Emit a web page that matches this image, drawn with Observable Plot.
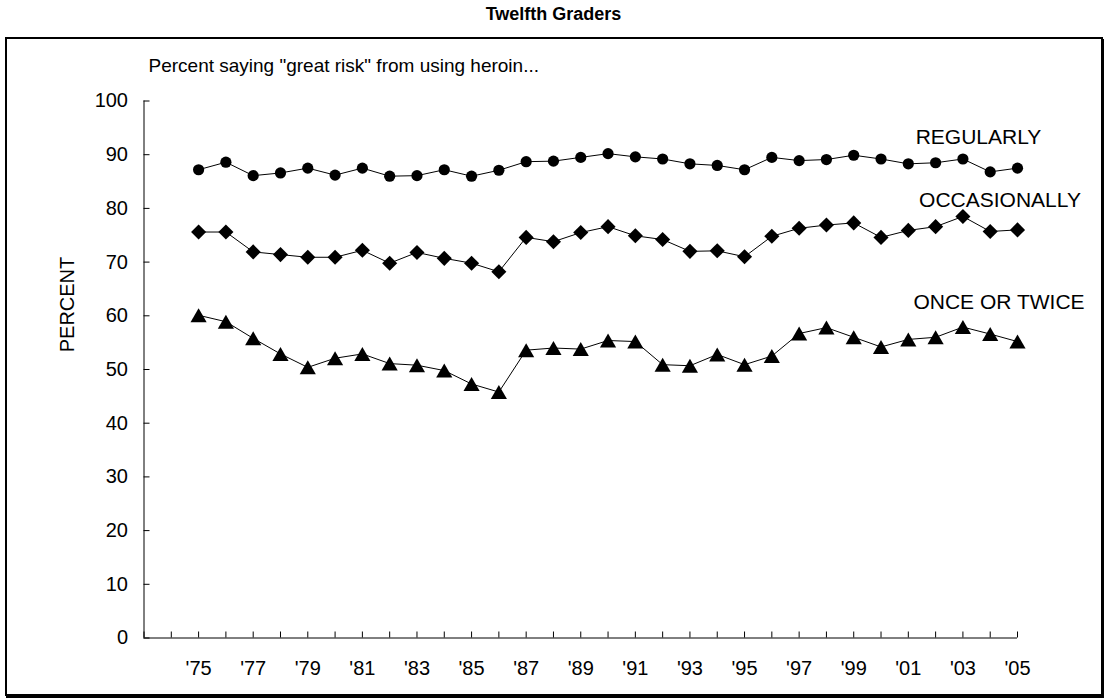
<!DOCTYPE html>
<html><head><meta charset="utf-8">
<script src="https://cdn.jsdelivr.net/npm/d3@7"></script>
<script src="https://cdn.jsdelivr.net/npm/@observablehq/plot@0.6"></script>
<style>
body{margin:0;background:#fff;font-family:"Liberation Sans",Arial,sans-serif;}
#wrap{position:relative;width:1107px;height:700px;overflow:hidden;}
#title{position:absolute;left:0;top:0;width:1107px;height:37px;text-align:center;font-weight:bold;font-size:18px;line-height:28px;}
#frame{position:absolute;left:5px;top:37px;width:1094px;height:655px;border:2px solid #000;box-shadow:1px 2px 0 #000;pointer-events:none;}
#chart{position:absolute;left:0;top:37px;}
</style></head><body>
<div id="wrap"><div id="title">Twelfth Graders</div><div id="chart"></div><div id="frame"></div></div>
<script>
const years = [1975,1976,1977,1978,1979,1980,1981,1982,1983,1984,1985,1986,1987,1988,1989,1990,
  1991,1992,1993,1994,1995,1996,1997,1998,1999,2000,2001,2002,2003,2004,2005];
const regularly = [87.2,88.6,86.1,86.6,87.5,86.2,87.5,86.0,86.1,87.2,86.0,87.1,88.7,88.8,89.5,90.2,
  89.6,89.2,88.3,88.0,87.2,89.5,88.9,89.1,89.9,89.2,88.3,88.5,89.2,86.8,87.5];
const occasionally = [75.6,75.6,71.9,71.4,70.9,70.9,72.2,69.8,71.8,70.7,69.8,68.2,74.6,73.8,75.5,76.6,
  74.9,74.2,72.0,72.1,71.0,74.8,76.3,76.9,77.3,74.6,75.9,76.6,78.5,75.7,76.0];
const onceOrTwice = [60.1,58.9,55.8,52.9,50.4,52.1,52.9,51.1,50.8,49.8,47.3,45.8,53.6,54.0,53.8,55.4,
  55.2,50.9,50.7,52.8,50.9,52.5,56.7,57.8,56.0,54.2,55.6,56.0,57.9,56.6,55.2];
const seriesNames = ["REGULARLY","OCCASIONALLY","ONCE OR TWICE"];
const xTickYears = [1973,1974,1975,1976,1977,1978,1979,1980,1981,1982,1983,1984,1985,1986,1987,1988,1989,1990,
  1991,1992,1993,1994,1995,1996,1997,1998,1999,2000,2001,2002,2003,2004,2005];
const xLabelYears = [1975,1977,1979,1981,1983,1985,1987,1989,1991,1993,1995,1997,1999,2001,2003,2005];
const xLabels = ["'75","'77","'79","'81","'83","'85","'87","'89","'91","'93","'95","'97","'99","'01","'03","'05"];
const yTicks = [0,10,20,30,40,50,60,70,80,90,100];
const subtitle = "Percent saying \"great risk\" from using heroin...";
const yLabel = "PERCENT";

const seriesValues = [regularly, occasionally, onceOrTwice];
const rows = [];
seriesNames.forEach((s, k) => years.forEach((yr, i) => rows.push({series: s, year: yr, value: seriesValues[k][i]})));
const bySeries = s => rows.filter(d => d.series === s);
const last = s => bySeries(s).slice(-1);
const blank = () => "";

const chart = Plot.plot({
  width: 1107, height: 663,
  marginLeft: 143.5, marginRight: 90, marginTop: 63.5, marginBottom: 62.5,
  style: {fontFamily: "'Liberation Sans', Arial, sans-serif", fontSize: "20px", color: "#000", background: "transparent", overflow: "visible"},
  x: {type: "linear", domain: [1973, 2005]},
  y: {domain: [0, 100]},
  marks: [
    Plot.ruleX([1973], {stroke: "#000"}),
    Plot.ruleY([0], {stroke: "#000"}),
    Plot.axisY({ticks: yTicks, tickSize: -6, tickFormat: blank, label: null}),
    Plot.axisY({ticks: yTicks, tickSize: 0, tickPadding: 16, label: null, fontSize: 20}),
    Plot.axisX({ticks: xTickYears, tickSize: -6, tickFormat: blank, label: null}),
    Plot.axisX({ticks: xLabelYears, tickSize: 0, tickPadding: 23, tickFormat: (d) => xLabels[xLabelYears.indexOf(d)], label: null, fontSize: 20}),
    Plot.text([yLabel], {frameAnchor: "left", rotate: -90, dx: -76.5, dy: -65, fontSize: 20, textAnchor: "middle", lineAnchor: "middle"}),
    Plot.text([subtitle], {frameAnchor: "top-left", dx: 4.5, dy: -35, fontSize: 19, textAnchor: "start", lineAnchor: "middle"}),
    Plot.line(rows, {x: "year", y: "value", z: "series", stroke: "#000", strokeWidth: 1}),
    Plot.dot(bySeries("REGULARLY"), {x: "year", y: "value", symbol: "circle", r: 5.6, fill: "#000", stroke: "none"}),
    Plot.dot(bySeries("OCCASIONALLY"), {x: "year", y: "value", symbol: "diamond2", r: 6.8, fill: "#000", stroke: "none"}),
    Plot.dot(bySeries("ONCE OR TWICE"), {x: "year", y: "value", symbol: "triangle", r: 6, dy: 2.3, fill: "#000", stroke: "none"}),
    Plot.text(last("REGULARLY"), {x: "year", y: "value", text: "series", dx: -39, dy: -31, fontSize: 21, textAnchor: "middle"}),
    Plot.text(last("OCCASIONALLY"), {x: "year", y: "value", text: "series", dx: -17.5, dy: -30, fontSize: 21, textAnchor: "middle"}),
    Plot.text(last("ONCE OR TWICE"), {x: "year", y: "value", text: "series", dx: -18.5, dy: -39, fontSize: 21, textAnchor: "middle"})
  ]
});
document.getElementById("chart").appendChild(chart);
</script>
</body></html>
